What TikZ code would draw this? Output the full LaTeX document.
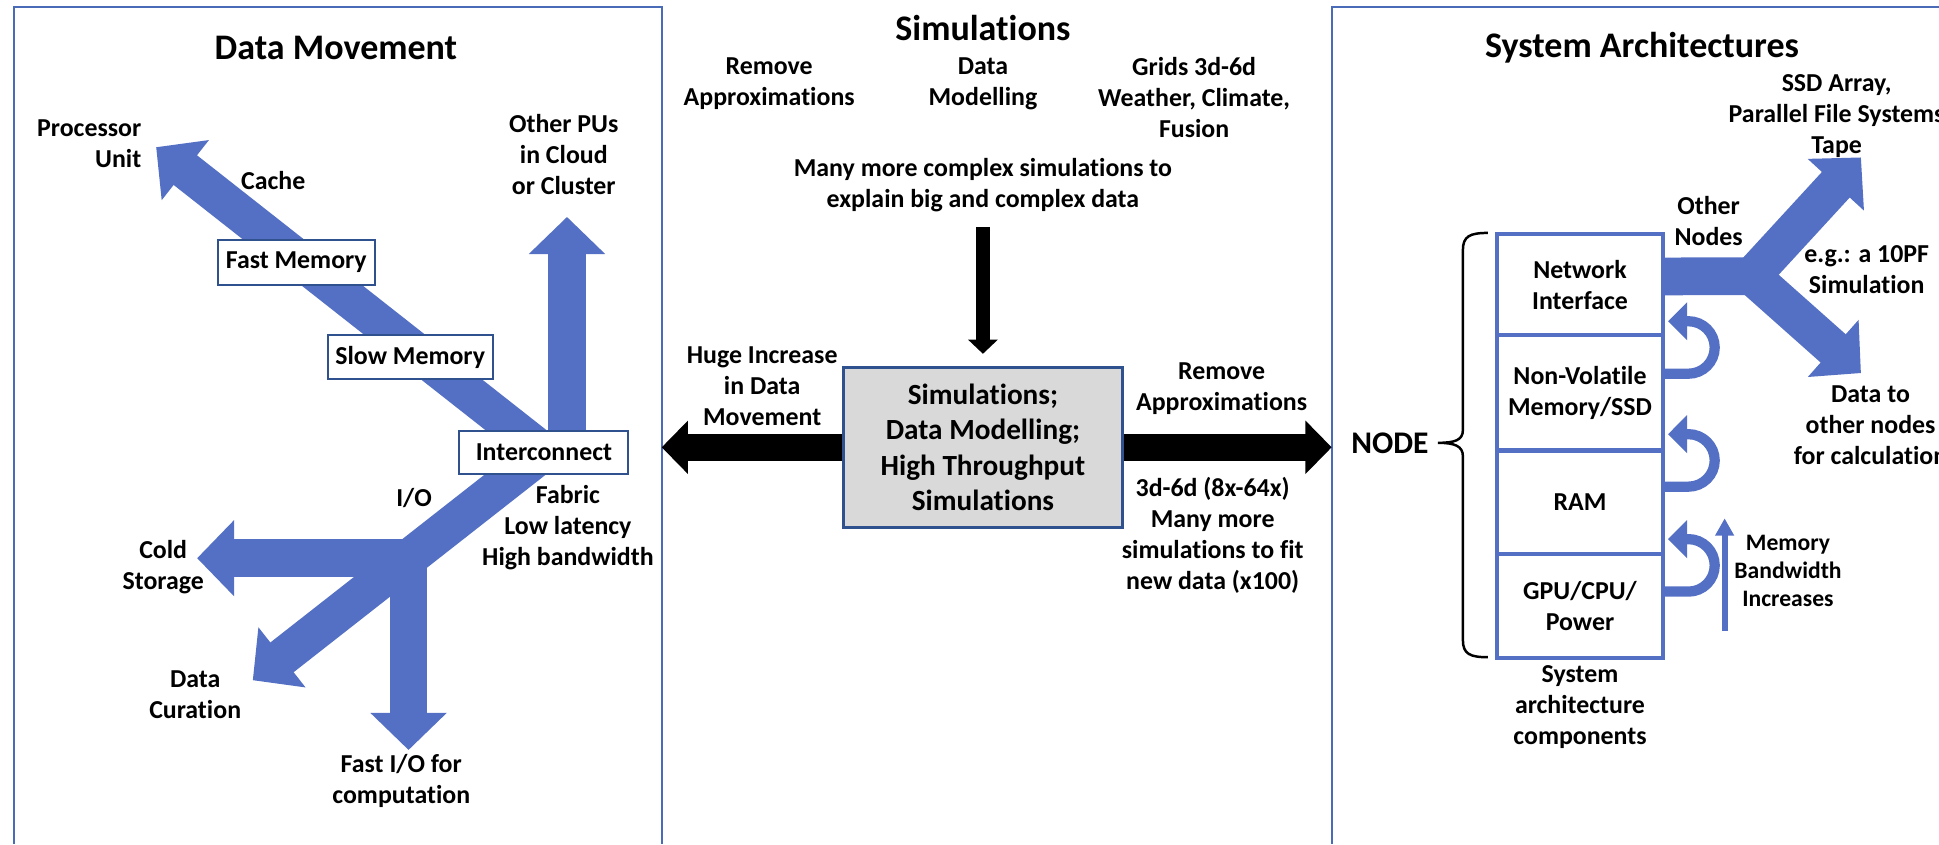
\documentclass[tikz,border=0pt]{standalone}
\usepackage{fontspec}
\setmainfont{Carlito}[Ligatures=NoCommon]
\usepackage{xcolor}
\usepackage{tikz}
\usetikzlibrary{arrows.meta,positioning,calc}

\definecolor{fatblue}{HTML}{5470C4}
\definecolor{edgeblue}{HTML}{2F528F}
\definecolor{panelblue}{HTML}{4A6CB8}
\definecolor{boxgray}{HTML}{D9D9D9}

\tikzset{
  lbl/.style={font=\bfseries\fontsize{11.5}{13.8}\selectfont,align=center,inner sep=1pt},
  ttl/.style={font=\bfseries\fontsize{16}{19}\selectfont,inner sep=1pt},
  panel/.style={panelblue,line width=0.9pt},
  fat/.style={fatblue,line width=0.59cm,-{Triangle[length=0.58cm,width=1.16cm]}},
  fatline/.style={fatblue,line width=0.59cm},
  memlbl/.style={lbl,draw=edgeblue,line width=0.9pt,fill=white,minimum height=0.70cm},
  blk/.style={line width=0.42cm,-{Triangle[length=0.41cm,width=0.81cm]}},
  blkdown/.style={line width=0.23cm,-{Triangle[length=0.22cm,width=0.45cm]}},
  simbox/.style={font=\bfseries\fontsize{13}{15.6}\selectfont,align=center,draw=edgeblue,line width=1.2pt,fill=boxgray,minimum width=4.36cm,minimum height=2.50cm},
  stackbox/.style={lbl,draw=fatblue,line width=1.8pt,minimum width=2.59cm,outer sep=0pt},
  loopy/.style={fatblue,line width=0.16cm,-{Triangle[length=0.30cm,width=0.58cm]}},
  bwarrow/.style={fatblue,line width=0.094cm,-{Triangle[length=0.27cm,width=0.28cm]}}
}

\begin{document}
\begin{tikzpicture}
\useasboundingbox (0,0) rectangle (30.30,13.19);
% panels
\draw[panel] (0.22,0) |- (10.34,13.08) -- (10.34,0);
\draw[panel] (20.81,0) |- (30.30,13.08);
\coordinate (dmright) at (10.34,13.08);
\coordinate (saleft) at (20.81,13.08);

% ---- Data Movement ----
\node[ttl] at (5.25,12.44) {Data Movement};
\coordinate (hub) at (8.50,6.125);
\coordinate (putip) at (2.44,10.89);
\coordinate (cloudtip) at (8.86,9.80);
\coordinate (curtip) at (3.95,2.56);
\coordinate (split) at ($(hub)!0.465!(curtip)$);
\coordinate (coldtip) at (3.08,4.49);
\coordinate (iotip) at (6.38,1.47);
\draw[fat] (hub) -- (putip);
\draw[fat] ([xshift=0.36cm]hub) -- (cloudtip);
\draw[fat] (hub) -- (curtip);
\draw[fat] (split) -- (split -| coldtip);
\draw[fat] (split) -- (split |- iotip);
\node[memlbl,minimum width=2.45cm] (fastmem) at (4.63,9.09) {Fast Memory};
\node[memlbl,minimum width=2.58cm] (slowmem) at (6.41,7.61) {Slow Memory};
\node[memlbl,minimum width=2.64cm,minimum height=0.67cm] (ic) at (hub) {Interconnect};
\node[lbl,anchor=east,align=right] (pu) at (2.25,10.95) {Processor\\Unit};
\node[lbl] (cache) at (4.27,10.375) {Cache};
\node[lbl] (otherpu) at (8.81,10.77) {Other PUs\\in Cloud\\or Cluster};
\node[lbl] (io) at (6.47,5.41) {I/O};
\node[lbl] (fabric) at (8.875,4.94) {Fabric\\Low latency\\High bandwidth};
\node[lbl] (cold) at (2.55,4.33) {Cold\\Storage};
\node[lbl] (curation) at (3.05,2.34) {Data\\Curation};
\node[lbl] (fastio) at (6.27,0.98) {Fast I/O for\\computation};

% ---- Simulations ----
\node[ttl] at (15.36,12.75) {Simulations};
\node[lbl] (remove) at (12.02,11.88) {Remove\\Approximations};
\node[lbl] (modelling) at (15.36,11.88) {Data\\Modelling};
\node[lbl] (grids) at (18.66,11.66) {Grids 3d-6d\\Weather, Climate,\\Fusion};
\node[lbl] (many) at (15.36,10.29) {Many more complex simulations to\\explain big and complex data};
\node[simbox] (simbox) at (15.36,6.20) {Simulations;\\Data Modelling;\\High Throughput\\Simulations};
\draw[blkdown,shorten <=0.19cm,shorten >=0.19cm] (many) -- (simbox);
\draw[blk] (simbox.west) -- (simbox.west -| dmright);
\draw[blk] (simbox.east) -- (simbox.east -| saleft);
\node[lbl] (huge) at (11.91,7.16) {Huge Increase\\in Data\\Movement};
\node[lbl] (remove2) at (19.09,7.11) {Remove\\Approximations};
\node[lbl] (fit) at (18.95,4.82) {3d-6d (8x-64x)\\Many more\\simulations to fit\\new data (x100)};

% ---- System Architectures ----
\node[ttl] at (25.66,12.44) {System Architectures};
\node[stackbox,minimum height=1.58cm] (ni) at (24.69,8.74) {Network\\Interface};
\node[stackbox,minimum height=1.80cm,below=0pt of ni] (nv) {Non-Volatile\\Memory/SSD};
\node[stackbox,minimum height=1.61cm,below=0pt of nv] (ram) {RAM};
\node[stackbox,minimum height=1.63cm,below=0pt of ram] (gpu) {GPU/CPU/\\Power};
\node[lbl,below=2pt of gpu] (sysarch) {System\\architecture\\components};
\coordinate (fork) at (27.375,8.875);
\coordinate (ssdtip) at (29.08,10.73);
\coordinate (datatip) at (29.08,7.36);
\draw[fatline] ([yshift=0.13cm]ni.east) -- (fork);
\draw[fat] (fork) -- (ssdtip);
\draw[fat] (fork) -- (datatip);
\node[lbl] (ssd) at (28.70,11.37) {SSD Array,\\Parallel File Systems\\Tape};
\node[lbl] (othernodes) at (26.70,9.73) {Other\\Nodes};
\node[lbl] (tenpf) at (29.17,8.98) {e.g.: a 10PF\\Simulation};
\node[lbl] (tonodes) at (29.23,6.54) {Data to\\other nodes\\for calculation};
\foreach \comp/\up in {nv/0.30,ram/0.24,gpu/0.22}{
  \draw[loopy] ([yshift=\up cm]\comp.east) -- ++(0.40,0) arc[start angle=-90,end angle=90,radius=0.41] -- ++(-0.32,0);
}
\coordinate (bwlow) at (26.95,3.33);
\coordinate (bwtop) at (26.95,5.09);
\draw[bwarrow] (bwlow) -- (bwtop);
\node[font=\bfseries\fontsize{10.5}{12.4}\selectfont,align=center] (bw) at (27.94,4.27) {Memory\\Bandwidth\\Increases};
% brace
\draw[line width=1.1pt] (23.25,9.55) .. controls (22.97,9.55) and (22.86,9.50) .. (22.86,9.28)
  -- (22.86,6.47) .. controls (22.86,6.31) and (22.73,6.27) .. (22.47,6.27)
  .. controls (22.73,6.27) and (22.86,6.22) .. (22.86,6.06)
  -- (22.86,3.19) .. controls (22.86,2.97) and (22.97,2.92) .. (23.25,2.92);
\node[font=\bfseries\fontsize{14}{16}\selectfont] (nodelbl) at (21.72,6.27) {NODE};
\end{tikzpicture}
\end{document}
